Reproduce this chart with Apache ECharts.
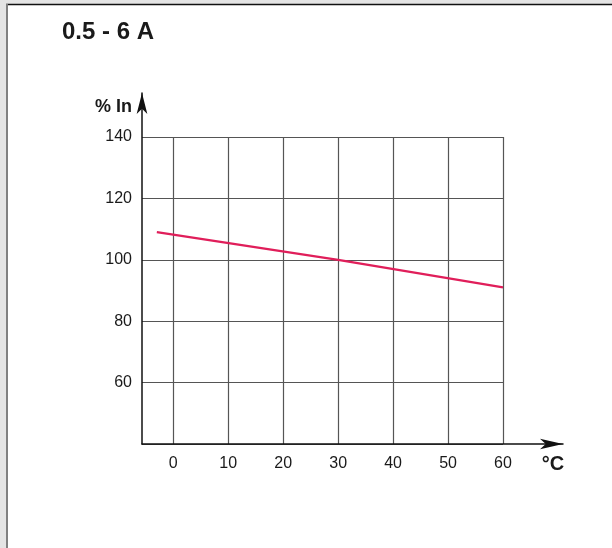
<!DOCTYPE html>
<html>
<head>
<meta charset="utf-8">
<script src="https://cdn.jsdelivr.net/npm/echarts@6/dist/echarts.min.js"></script>
<style>
html, body { margin: 0; padding: 0; background: #fff; }
#chart { width: 612px; height: 548px; }
</style>
</head>
<body>
<div id="chart"></div>
<script>
// values
const temperatureTicks = [0, 10, 20, 30, 40, 50, 60];
const percentTicks = [40, 60, 80, 100, 120, 140];
const deratingTemp = [-3, 30, 60];
const deratingPercent = [109, 100, 91];

const narrow = "'Liberation Sans Narrow', 'Liberation Sans', Arial, sans-serif";
const ink = '#1a1a1a';
const gridColor = '#555';

const chart = echarts.init(document.getElementById('chart'));

chart.setOption({
  animation: false,
  backgroundColor: '#fff',
  title: {
    text: '0.5 - 6 A',
    left: 57,
    top: 15,
    textStyle: { fontFamily: "'Liberation Sans', Arial, sans-serif", fontSize: 24, fontWeight: 'bold', color: ink }
  },
  graphic: [
    { type: 'rect', shape: { x: 0, y: 0, width: 612, height: 4 }, style: { fill: '#e4e4e4' }, silent: true },
    { type: 'rect', shape: { x: 0, y: 0, width: 6, height: 548 }, style: { fill: '#e4e4e4' }, silent: true },
    { type: 'line', shape: { x1: 6, y1: 4.5, x2: 612, y2: 4.5 }, style: { stroke: '#111', lineWidth: 1.5 }, silent: true },
    { type: 'line', shape: { x1: 7, y1: 4, x2: 7, y2: 548 }, style: { stroke: '#808080', lineWidth: 2 }, silent: true }
  ],
  grid: [
    // plotting area with the grid lines
    { left: 142, right: 109, top: 137, bottom: 104, outerBoundsMode: 'none' },
    // longer axis lines with arrows
    { left: 142, right: 49, top: 93, bottom: 104, outerBoundsMode: 'none' }
  ],
  xAxis: [
    {
      type: 'value',
      gridIndex: 0,
      min: -5.7,
      max: 60,
      axisLine: { show: false },
      axisTick: { show: false, customValues: temperatureTicks },
      axisLabel: {
        customValues: temperatureTicks,
        margin: 12,
        fontFamily: narrow,
        fontSize: 16,
        color: ink
      },
      splitLine: { show: true, lineStyle: { color: gridColor, width: 1.2 } }
    },
    {
      type: 'value',
      gridIndex: 1,
      min: 0,
      max: 1,
      name: '°C',
      nameLocation: 'end',
      nameGap: -10,
      nameTextStyle: {
        fontFamily: narrow, fontSize: 20, fontWeight: 'bold', color: ink,
        align: 'center', verticalAlign: 'top', padding: [10, 0, 0, 0]
      },
      axisLine: {
        show: true,
        symbol: ['none', 'arrow'],
        symbolSize: [8, 23],
        lineStyle: { color: '#111', width: 1.5 }
      },
      axisTick: { show: false },
      axisLabel: { show: false },
      splitLine: { show: false }
    }
  ],
  yAxis: [
    {
      type: 'value',
      gridIndex: 0,
      min: 40,
      max: 140,
      interval: 20,
      axisLine: { show: false },
      axisTick: { show: false },
      axisLabel: {
        margin: 10,
        fontFamily: narrow,
        fontSize: 16,
        color: ink,
        formatter: v => (v === percentTicks[0] ? '' : String(v))
      },
      splitLine: { show: true, lineStyle: { color: gridColor, width: 1.2 } }
    },
    {
      type: 'value',
      gridIndex: 1,
      min: 0,
      max: 1,
      name: '% In',
      nameLocation: 'end',
      nameGap: -14,
      nameTextStyle: {
        fontFamily: narrow, fontSize: 18, fontWeight: 'bold', color: ink,
        align: 'right', verticalAlign: 'middle', padding: [0, 10, 0, 0]
      },
      axisLine: {
        show: true,
        symbol: ['none', 'arrow'],
        symbolSize: [8, 21],
        lineStyle: { color: '#111', width: 1.5 }
      },
      axisTick: { show: false },
      axisLabel: { show: false },
      splitLine: { show: false }
    }
  ],
  series: [
    {
      type: 'line',
      xAxisIndex: 0,
      yAxisIndex: 0,
      data: deratingTemp.map((t, i) => [t, deratingPercent[i]]),
      showSymbol: false,
      lineStyle: { color: '#e01e5a', width: 2.2 },
      z: 5
    }
  ]
});
</script>
</body>
</html>
